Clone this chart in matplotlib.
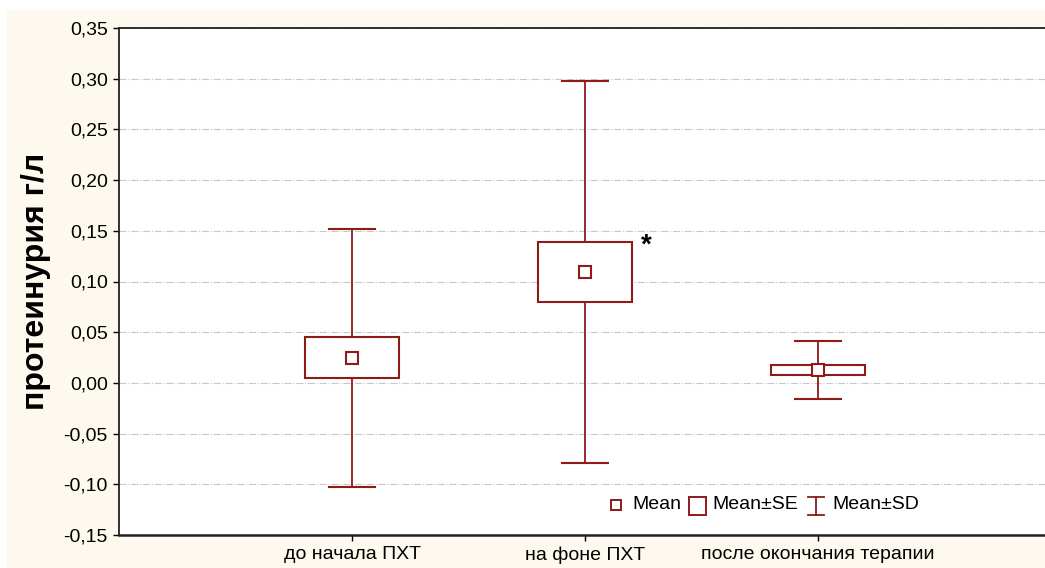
import matplotlib
matplotlib.use("Agg")
import matplotlib.pyplot as plt
from matplotlib.patches import Rectangle
from matplotlib.lines import Line2D

categories = ["до начала ПХТ", "на фоне ПХТ", "после окончания терапии"]
means = [0.025, 0.109, 0.013]
se_low = [0.005, 0.080, 0.008]
se_high = [0.045, 0.139, 0.018]
sd_low = [-0.103, -0.079, -0.016]
sd_high = [0.152, 0.298, 0.041]
yticks = [-0.15, -0.10, -0.05, 0.00, 0.05, 0.10, 0.15, 0.20, 0.25, 0.30, 0.35]
ytick_labels = ["-0,15", "-0,10", "-0,05", "0,00", "0,05", "0,10", "0,15", "0,20", "0,25", "0,30", "0,35"]

plt.rcParams['font.family'] = ['Liberation Sans', 'DejaVu Sans']
red = '#8E1A1A'
cream = '#FEF9EE'

fig = plt.figure(figsize=(10.45, 5.68), dpi=100, facecolor='white')
fig.patches.append(Rectangle((7/1045, 0), 1 - 7/1045, 1 - 10/568, transform=fig.transFigure,
                             facecolor=cream, edgecolor='none', zorder=-10))
ax = fig.add_axes([119/1045, 33/568, 932/1045, 507/568])
ax.set_facecolor('white')

xs = [1, 2, 3]
box_w = 0.40
cap_w = 0.20
for x, m, sl, sh, dl, dh in zip(xs, means, se_low, se_high, sd_low, sd_high):
    ax.plot([x, x], [sh, dh], color=red, lw=1.3, zorder=3)
    ax.plot([x, x], [dl, sl], color=red, lw=1.3, zorder=3)
    ax.plot([x - cap_w/2, x + cap_w/2], [dh, dh], color=red, lw=1.5, zorder=3)
    ax.plot([x - cap_w/2, x + cap_w/2], [dl, dl], color=red, lw=1.5, zorder=3)
    ax.add_patch(Rectangle((x - box_w/2, sl), box_w, sh - sl, facecolor='white',
                           edgecolor=red, lw=1.5, zorder=3))
    ax.plot([x], [m], marker='s', ms=8, mfc='white', mec=red, mew=1.5, zorder=4)

ax.text(2.265, se_high[1] - 0.004, '*', fontsize=20, fontweight='bold', ha='center', va='center')

ax.set_xlim(0, 4)
ax.set_ylim(-0.15, 0.35)
ax.set_xticks(xs)
ax.set_xticklabels(categories, fontsize=14)
ax.set_yticks(yticks)
ax.set_yticklabels(ytick_labels, fontsize=14)
ax.tick_params(axis='both', direction='out', length=4, width=1, color='black', pad=4)
ax.yaxis.grid(True, color='#C8C8C8', linestyle='-.', lw=0.8)
ax.set_axisbelow(True)
for s in ['left', 'bottom', 'top']:
    ax.spines[s].set_color('#222222')
    ax.spines[s].set_linewidth(1.3)
ax.spines['bottom'].set_linewidth(1.8)
ax.spines['right'].set_visible(False)
ax.set_ylabel('протеинурия г/л', fontsize=23, fontweight='bold', labelpad=9)

# legend (drawn manually)
ly = 0.0592
ax.plot([0.5333], [ly], marker='s', ms=7, mfc='white', mec=red, mew=1.4,
        transform=ax.transAxes, clip_on=False, zorder=5)
ax.text(0.5504, ly, 'Mean', transform=ax.transAxes, fontsize=14, va='center', ha='left')
ax.add_patch(Rectangle((0.6116, 0.0394), 0.0182, 0.0355, transform=ax.transAxes,
                       facecolor='white', edgecolor=red, lw=1.4, zorder=5))
ax.text(0.6363, ly, 'Mean±SE', transform=ax.transAxes, fontsize=14, va='center', ha='left')
sx = 0.7479
hw = 0.0086
ax.add_line(Line2D([sx, sx], [0.0394, 0.0750], color=red, lw=1.3, transform=ax.transAxes))
ax.add_line(Line2D([sx - hw, sx + hw], [0.0750, 0.0750], color=red, lw=1.3, transform=ax.transAxes))
ax.add_line(Line2D([sx - hw, sx + hw], [0.0394, 0.0394], color=red, lw=1.3, transform=ax.transAxes))
ax.text(0.765, ly, 'Mean±SD', transform=ax.transAxes, fontsize=14, va='center', ha='left')

fig.savefig('out.png', dpi=100, facecolor=fig.get_facecolor())
